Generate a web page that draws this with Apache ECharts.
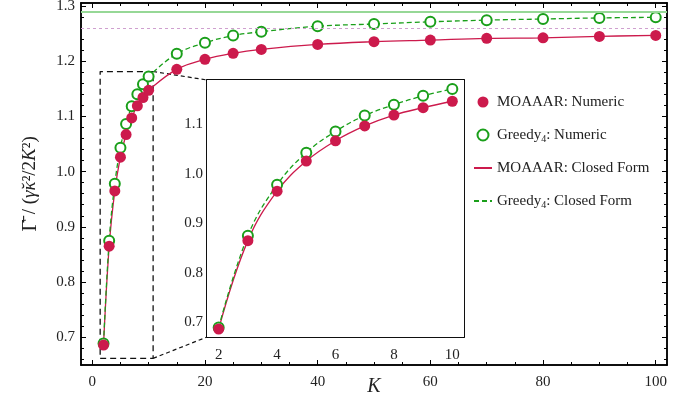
<!DOCTYPE html>
<html><head><meta charset="utf-8">
<script src="https://cdn.jsdelivr.net/npm/echarts@6/dist/echarts.min.js"></script>
<style>html,body{margin:0;padding:0;background:#fff}#c{width:693px;height:398px}</style>
</head><body><div id="c"></div>
<script>
// ---- data ----
const kValues       = [2, 3, 4, 5, 6, 7, 8, 9, 10, 15, 20, 25, 30, 40, 50, 60, 70, 80, 90, 100];
const moaaarNumeric = [0.686, 0.865, 0.965, 1.026, 1.067, 1.097, 1.119, 1.134, 1.147, 1.185, 1.203, 1.214, 1.221, 1.230, 1.235, 1.238, 1.241, 1.242, 1.2446, 1.2464];
const greedyNumeric = [0.689, 0.875, 0.978, 1.043, 1.086, 1.118, 1.140, 1.158, 1.172, 1.213, 1.233, 1.246, 1.253, 1.263, 1.267, 1.271, 1.274, 1.276, 1.278, 1.279];
const greedyLimit = 1.294;
const moaaarLimit = 1.2555;
const insetKMax = 10;
const zoomBox = [1.4, 10.8, 0.662, 1.181]; // xmin, xmax, ymin, ymax of the dashed box
const mainXTicks  = [0, 20, 40, 60, 80, 100];
const mainYTicks  = [0.7, 0.8, 0.9, 1.0, 1.1, 1.2, 1.3];
const insetXTicks = [2, 4, 6, 8, 10];
const insetYTicks = [0.7, 0.8, 0.9, 1.0, 1.1];

// ---- styling ----
const CRIMSON = '#cc1a4c';
const GREEN = '#1a9f1a';
const FONT = 'Liberation Serif';

function minors(lo, hi, step, majors) {
  const out = [];
  for (let i = Math.round(lo / step); i * step <= hi + 1e-9; i++) {
    const v = +(i * step).toFixed(4);
    if (!majors.some(m => Math.abs(m - v) < 1e-6)) out.push(v);
  }
  return out;
}

function axis(gridIndex, pos, min, max, ticks, len, label, extra) {
  const a = {
    type: 'value', gridIndex, position: pos, min, max,
    axisLine: { show: true, onZero: false, lineStyle: { color: '#000', width: 1.5 } },
    axisTick: { show: true, inside: true, length: len, customValues: ticks, lineStyle: { color: '#000', width: 1 } },
    axisLabel: label ? Object.assign({ customValues: ticks, color: '#222', fontFamily: FONT, fontSize: 15 }, label) : { show: false },
    splitLine: { show: false }
  };
  return Object.assign(a, extra || {});
}

const pairs = (ys, kmax) => kValues.map((k, i) => [k, ys[i]]).filter(p => p[0] <= (kmax || 1e9));
const xm = [-2, 102], ym = [0.65, 1.305];
const xi = [1.6, 10.4], yi = [0.67, 1.19];

const mainXMinor = minors(0, 100, 5, mainXTicks);
const mainYMinor = minors(0.66, 1.30, 0.02, mainYTicks);
const insXMinor = minors(2, 10, 0.5, insetXTicks);
const insYMinor = minors(0.68, 1.18, 0.02, insetYTicks);

const xAxes = [
  axis(0, 'bottom', xm[0], xm[1], mainXTicks, 5, { margin: 10, formatter: v => String(v) },
    { name: 'K', nameLocation: 'middle', nameGap: 12, nameMoveOverlap: false,
      nameTextStyle: { fontFamily: FONT, fontStyle: 'italic', fontSize: 20, color: '#222', verticalAlign: 'top' } }),
  axis(0, 'bottom', xm[0], xm[1], mainXMinor, 3, null),
  axis(0, 'top', xm[0], xm[1], mainXTicks, 5, null),
  axis(0, 'top', xm[0], xm[1], mainXMinor, 3, null),
  axis(1, 'bottom', xi[0], xi[1], insetXTicks, 5, { margin: 11, formatter: v => String(v) }),
  axis(1, 'bottom', xi[0], xi[1], insXMinor, 3, null),
  axis(1, 'top', xi[0], xi[1], insetXTicks, 5, null),
  axis(1, 'top', xi[0], xi[1], insXMinor, 3, null)
];
const yAxes = [
  axis(0, 'left', ym[0], ym[1], mainYTicks, 5, { margin: 6, formatter: v => v.toFixed(1) },
    { name: '{g|Γ̄}{r| / (}{i|γ̆κ}{r|²/2}{i|K}{r|²)}', nameLocation: 'middle', nameGap: 40, nameRotate: 90, nameMoveOverlap: false,
      nameTextStyle: { rich: {
        g: { fontFamily: FONT, fontSize: 22, color: '#222' },
        r: { fontFamily: FONT, fontSize: 19, color: '#222' },
        i: { fontFamily: FONT, fontSize: 19, fontStyle: 'italic', color: '#222' } } } }),
  axis(0, 'left', ym[0], ym[1], mainYMinor, 3, null),
  axis(0, 'right', ym[0], ym[1], mainYTicks, 5, null),
  axis(0, 'right', ym[0], ym[1], mainYMinor, 3, null),
  axis(1, 'left', yi[0], yi[1], insetYTicks, 5, { margin: 4, formatter: v => v.toFixed(1) }),
  axis(1, 'left', yi[0], yi[1], insYMinor, 3, null),
  axis(1, 'right', yi[0], yi[1], insetYTicks, 5, null),
  axis(1, 'right', yi[0], yi[1], insYMinor, 3, null)
];

function curveSeries(ax, ay, kmax, withMarks) {
  const s = [
    { type: 'line', name: 'MOAAAR: Closed Form', xAxisIndex: ax, yAxisIndex: ay, data: pairs(moaaarNumeric, kmax),
      smooth: 0.4, symbol: 'none', z: 3, lineStyle: { color: CRIMSON, width: 1.3 }, itemStyle: { color: CRIMSON } },
    { type: 'line', name: 'Greedy4: Closed Form', xAxisIndex: ax, yAxisIndex: ay, data: pairs(greedyNumeric, kmax),
      smooth: 0.4, symbol: 'none', z: 3, lineStyle: { color: GREEN, width: 1.3, type: [5, 3] }, itemStyle: { color: GREEN } },
    { type: 'scatter', name: 'Greedy4: Numeric', xAxisIndex: ax, yAxisIndex: ay, data: pairs(greedyNumeric, kmax),
      symbol: 'circle', symbolSize: 10, z: 4, itemStyle: { color: '#fff', borderColor: GREEN, borderWidth: 2, opacity: 1 } },
    { type: 'scatter', name: 'MOAAAR: Numeric', xAxisIndex: ax, yAxisIndex: ay, data: pairs(moaaarNumeric, kmax),
      symbol: 'circle', symbolSize: 11, z: 5, itemStyle: { color: CRIMSON, opacity: 1 } }
  ];
  if (withMarks) {
    s[0].markLine = { silent: true, symbol: 'none', label: { show: false }, animation: false,
      data: [
        { yAxis: greedyLimit, lineStyle: { color: '#96d896', width: 2, type: 'solid' } },
        { yAxis: moaaarLimit, lineStyle: { color: '#cfa0cf', width: 1.2, type: [3, 3] } }
      ] };
  }
  return s;
}

const boxSeries = {
  type: 'line', xAxisIndex: 0, yAxisIndex: 0, symbol: 'none', z: 2, silent: true,
  data: [[zoomBox[0], zoomBox[2]], [zoomBox[1], zoomBox[2]], [zoomBox[1], zoomBox[3]], [zoomBox[0], zoomBox[3]], [zoomBox[0], zoomBox[2]]],
  lineStyle: { color: '#111', width: 1.3, type: [6, 4] }
};

const chart = echarts.init(document.getElementById('c'), null, { renderer: 'canvas' });
chart.setOption({
  animation: false,
  backgroundColor: '#fff',
  textStyle: { fontFamily: FONT },
  grid: [
    { left: 81, right: 26, top: 3, bottom: 33, show: false, outerBoundsMode: 'none', containLabel: false },
    { left: 207, right: 229, top: 80, bottom: 61, show: true, backgroundColor: '#fff', borderWidth: 0, z: 1, outerBoundsMode: 'none', containLabel: false }
  ],
  xAxis: xAxes,
  yAxis: yAxes,
  legend: {
    orient: 'vertical', left: 468, top: 88, itemWidth: 18, itemHeight: 11, itemGap: 15,
    data: [
      { name: 'MOAAAR: Numeric' },
      { name: 'Greedy4: Numeric' },
      { name: 'MOAAAR: Closed Form', itemStyle: { opacity: 0 } },
      { name: 'Greedy4: Closed Form', itemStyle: { opacity: 0 } }
    ],
    formatter: n => n.replace(/^(\w+?)4:(.*)$/, '{n|$1}{s|4}{n|:$2}').replace(/^MOAAAR(.*)$/, '{n|MOAAAR$1}'),
    textStyle: { fontFamily: FONT, fontSize: 15, color: '#222', lineHeight: 18,
      rich: { n: { fontFamily: FONT, fontSize: 15, color: '#222', lineHeight: 18 },
              s: { fontFamily: FONT, fontSize: 10, color: '#222', lineHeight: 18, padding: [8, 0, 0, 0] } } }
  },
  series: [boxSeries].concat(curveSeries(0, 0, null, true), curveSeries(4, 4, insetKMax, false))
});

// connector lines from the dashed box to the inset
const p1 = chart.convertToPixel({ xAxisIndex: 0, yAxisIndex: 0 }, [zoomBox[1], zoomBox[3]]);
const p2 = chart.convertToPixel({ xAxisIndex: 0, yAxisIndex: 0 }, [zoomBox[1], zoomBox[2]]);
const q1 = chart.convertToPixel({ xAxisIndex: 4, yAxisIndex: 4 }, [xi[0], yi[1]]);
const q2 = chart.convertToPixel({ xAxisIndex: 4, yAxisIndex: 4 }, [xi[0], yi[0]]);
const dash = { stroke: '#111', lineWidth: 1.2, lineDash: [4, 3] };
chart.setOption({ graphic: [
  { type: 'line', shape: { x1: p1[0], y1: p1[1], x2: q1[0], y2: q1[1] }, style: dash, z: 2, silent: true },
  { type: 'line', shape: { x1: p2[0], y1: p2[1], x2: q2[0], y2: q2[1] }, style: dash, z: 2, silent: true }
] });
</script>
</body></html>
